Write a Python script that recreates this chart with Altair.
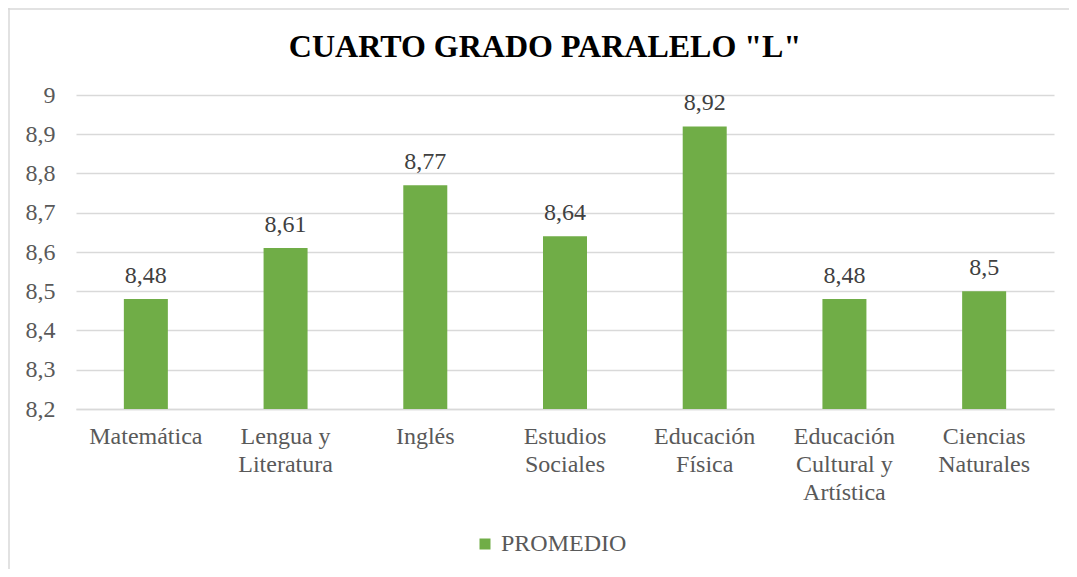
import altair as alt
import pandas as pd

categories = ["Matemática", "Lengua y\nLiteratura", "Inglés", "Estudios\nSociales",
              "Educación\nFísica", "Educación\nCultural y\nArtística", "Ciencias\nNaturales"]
values = [8.48, 8.61, 8.77, 8.64, 8.92, 8.48, 8.50]
value_labels = ["8,48", "8,61", "8,77", "8,64", "8,92", "8,48", "8,5"]
series = "PROMEDIO"
title_text = 'CUARTO GRADO PARALELO "L"'
y_ticks = [8.2, 8.3, 8.4, 8.5, 8.6, 8.7, 8.8, 8.9, 9.0]

df = pd.DataFrame({"cat": categories, "value": values, "label": value_labels, "serie": series})

FONT = "Liberation Serif"
GREEN = "#70AD47"
FS = 24

base = alt.Chart(df).encode(
    x=alt.X("cat:N", sort=categories, title=None,
            scale=alt.Scale(paddingInner=0.685, paddingOuter=0.3425),
            axis=alt.Axis(labelAngle=0, labelExpr="split(datum.label, '\\n')",
                          labelFont=FONT, labelFontSize=FS, labelColor="#595959",
                          labelLineHeight=28, labelPadding=15, ticks=False,
                          domain=True, domainColor="#D9D9D9", domainWidth=1.5,
                          labelBaseline="top")),
    y=alt.Y("value:Q", title=None,
            scale=alt.Scale(domain=[8.2, 9.0], nice=False, zero=False),
            axis=alt.Axis(values=y_ticks, tickCount=20, labelOverlap=False,
                          labelExpr="replace(format(datum.value, '.1~f'), '.', ',')",
                          labelFont=FONT, labelFontSize=FS, labelColor="#595959",
                          labelPadding=21, ticks=False, domain=False,
                          grid=True, gridColor="#D9D9D9", gridWidth=1.5)),
)

bars = base.mark_bar(size=44, color=GREEN, clip=True).encode(
    color=alt.Color("serie:N", scale=alt.Scale(range=[GREEN]), title=None,
                    legend=alt.Legend(orient="none", legendX=397, legendY=437,
                                      symbolType="square", symbolSize=121,
                                      symbolStrokeWidth=0,
                                      labelFont=FONT, labelFontSize=FS,
                                      labelColor="#595959", labelOffset=4)),
)

texts = base.mark_text(baseline="alphabetic", dy=-16, font=FONT, fontSize=FS,
                       color="#404040").encode(
    text="label:N",
)

frame = alt.Chart(pd.DataFrame({"t": [title_text]}))
title_mark = frame.mark_text(font=FONT, fontSize=32, fontWeight="bold",
                             color="#000000", align="center", baseline="alphabetic").encode(
    x=alt.value(469), y=alt.value(-38), text="t:N")
left_border = frame.mark_rule(color="#D9D9D9", strokeWidth=1.5).encode(
    x=alt.value(-67), y=alt.value(-87), y2=alt.value(482))
top_border = frame.mark_rule(color="#D9D9D9", strokeWidth=1.5).encode(
    x=alt.value(-68), x2=alt.value(1000), y=alt.value(-86))

chart = alt.layer(bars, texts, title_mark, left_border, top_border).properties(
    width=978, height=314,
    autosize=alt.AutoSizeParams(type="none"),
    padding={"left": 68, "top": 87, "right": 15, "bottom": 160},
).configure(background="white", view=alt.ViewConfig(stroke=None))

chart.save("out.html", embed_options={"renderer": "svg", "actions": False})
